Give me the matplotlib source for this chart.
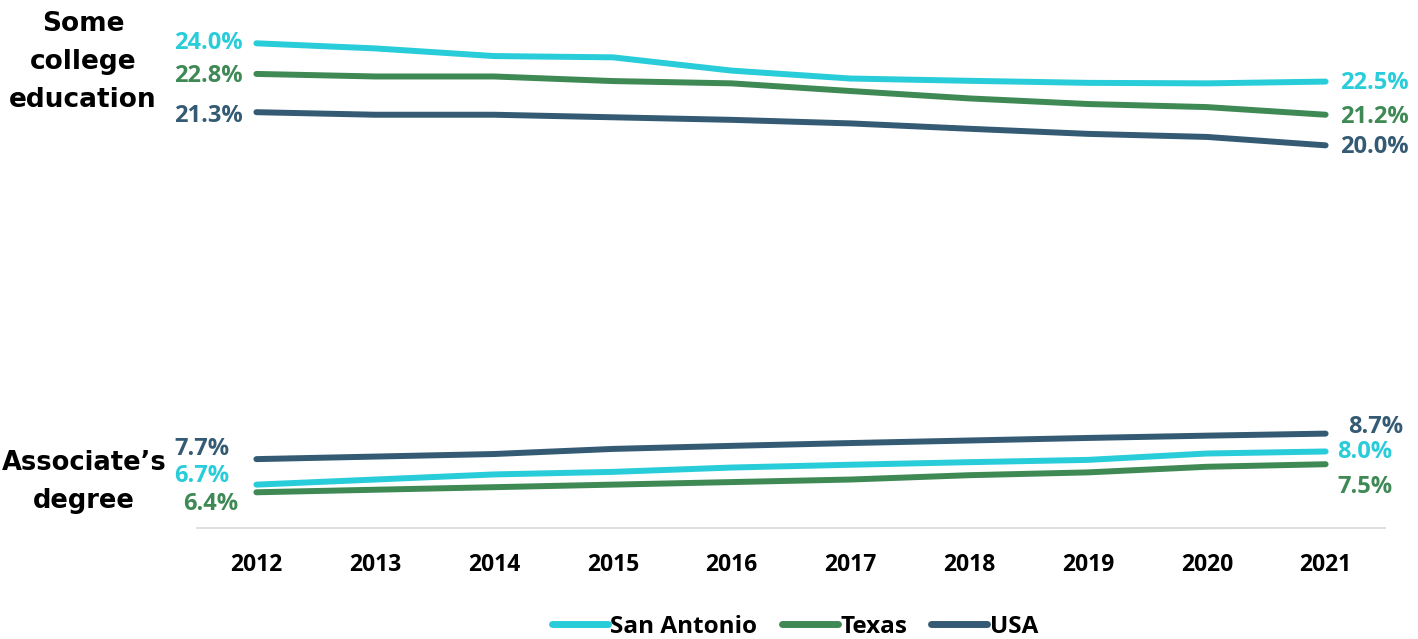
import matplotlib
matplotlib.use("Agg")
import matplotlib.pyplot as plt
from matplotlib.lines import Line2D

years = ["2012", "2013", "2014", "2015", "2016", "2017", "2018", "2019", "2020", "2021"]
series_names = ["San Antonio", "Texas", "USA"]
colors = ["#29CCD9", "#3F8955", "#345B73"]

# Share of adults (%) whose highest attainment is some college, no degree
some_college_sa = [24.0, 23.8, 23.5, 23.45, 22.93, 22.62, 22.53, 22.45, 22.43, 22.5]
some_college_tx = [22.8, 22.7, 22.7, 22.52, 22.43, 22.13, 21.84, 21.62, 21.5, 21.2]
some_college_us = [21.3, 21.2, 21.2, 21.1, 21.0, 20.86, 20.65, 20.45, 20.33, 20.0]

# Share of adults (%) whose highest attainment is an associate's degree
associate_sa = [6.7, 6.9, 7.1, 7.2, 7.37, 7.48, 7.58, 7.67, 7.92, 8.0]
associate_tx = [6.4, 6.5, 6.6, 6.7, 6.8, 6.9, 7.07, 7.18, 7.4, 7.5]
associate_us = [7.7, 7.8, 7.9, 8.1, 8.22, 8.33, 8.43, 8.53, 8.62, 8.7]

some_college = [some_college_sa, some_college_tx, some_college_us]
associate = [associate_sa, associate_tx, associate_us]

LABEL_FONT = "Open Sans"
W, H = 1418, 639

fig = plt.figure(figsize=(W / 100, H / 100), dpi=100)
ax = fig.add_axes([197 / W, 1 - 528 / H, (1385 - 197) / W, (528 - 17.8) / H])

x = list(range(len(years)))
for vals, c in zip(some_college, colors):
    ax.plot(x, vals, color=c, lw=4.3, solid_capstyle="round", solid_joinstyle="round")
for vals, c in zip(associate, colors):
    ax.plot(x, vals, color=c, lw=4.3, solid_capstyle="round", solid_joinstyle="round")

ax.set_xlim(-0.5, len(years) - 0.5)
ax.set_ylim(5.0, 25.0)
ax.set_yticks([])
ax.set_xticks(x)
ax.set_xticklabels(years, fontfamily=LABEL_FONT, fontweight="bold", fontsize=16.5)
ax.tick_params(axis="x", length=0, pad=18)
for s in ["top", "left", "right"]:
    ax.spines[s].set_visible(False)
ax.spines["bottom"].set_color("#D9D9D9")
ax.spines["bottom"].set_linewidth(1.2)

px = 0.72  # points per pixel at 100 dpi


def label(xi, val, color, dx_px, dy_px, ha):
    ax.annotate(f"{val:.1f}%", xy=(xi, val), xytext=(dx_px * px, dy_px * px),
                textcoords="offset points", ha=ha, va="center",
                color=color, fontfamily=LABEL_FONT, fontweight="bold", fontsize=17)


last = len(years) - 1
# start / end values, some college
left_offsets_top = [(-14, 0), (-14, -2), (-14, -4)]
right_offsets_top = [(14, -1), (14, -2), (14, -2)]
for vals, c, lo, ro in zip(some_college, colors, left_offsets_top, right_offsets_top):
    label(0, vals[0], c, lo[0], lo[1], "right")
    label(last, vals[-1], c, ro[0], ro[1], "left")

# start / end values, associate's degree
left_offsets_bot = [(-27, 9), (-18, -12), (-27, 10)]
right_offsets_bot = [(12, -1), (12, -23), (23, 7)]
for vals, c, lo, ro in zip(associate, colors, left_offsets_bot, right_offsets_bot):
    label(0, vals[0], c, lo[0], lo[1], "right")
    label(last, vals[-1], c, ro[0], ro[1], "left")

# group titles on the left
fig.text(83 / W, 1 - 62 / H, "Some\ncollege\neducation", ha="center", va="center",
         fontfamily="DejaVu Sans", fontweight="bold", fontsize=19, linespacing=1.6,
         color="black")
fig.text(84 / W, 1 - 482 / H, "Associate\u2019s\ndegree", ha="center", va="center",
         fontfamily="DejaVu Sans", fontweight="bold", fontsize=18.5, linespacing=1.55,
         color="black")

handles = [Line2D([0], [0], color=c, lw=5, solid_capstyle="round") for c in colors]
fig.legend(handles, series_names, loc="center", bbox_to_anchor=(795 / W, 1 - 627 / H),
           ncol=3, frameon=False, handlelength=2.3, handletextpad=0.1,
           columnspacing=1.0, prop={"family": LABEL_FONT, "weight": "bold", "size": 17.5})

fig.savefig("out.png", dpi=100, facecolor="white")
